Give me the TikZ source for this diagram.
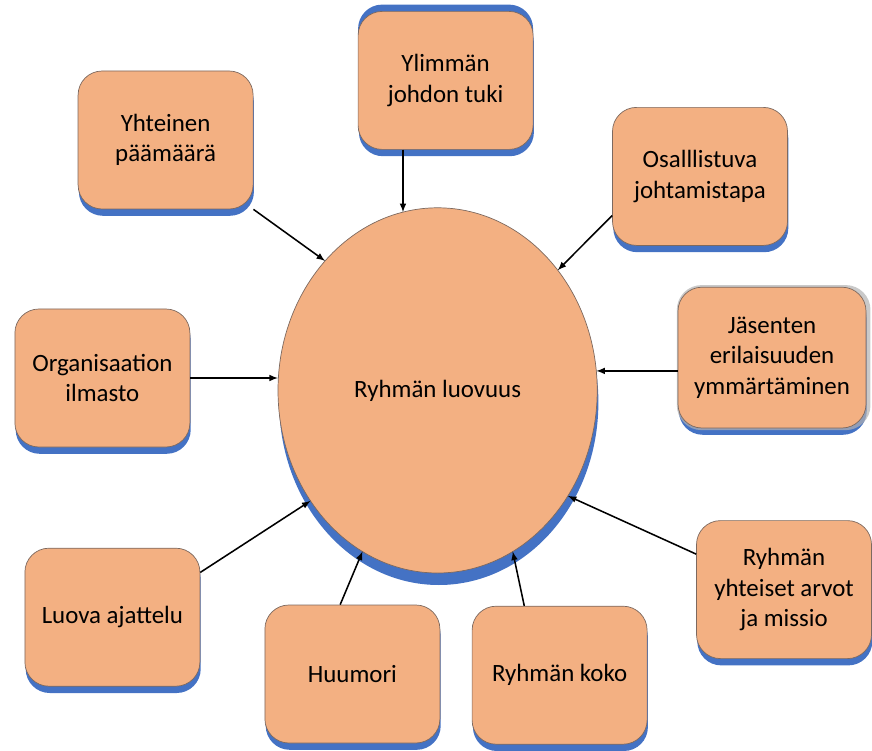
\documentclass[tikz,border=0pt]{standalone}
\usepackage{fontspec}
\setmainfont{Carlito}
\usepackage{tikz}
\usetikzlibrary{shapes,positioning,calc}
\usetikzlibrary{shapes.geometric, arrows}
\usetikzlibrary{shadows}
\definecolor{laatikko}{RGB}{243,176,130}
\definecolor{varjo}{RGB}{68,114,196}
\definecolor{reuna}{RGB}{125,105,95}
\tikzstyle{tekija} = [rectangle, 
rounded corners=0.6cm, minimum width=4.375cm, minimum height=3.45cm, text centered, align=center, draw=reuna, line width=0.5pt, fill=laatikko, font=\fontsize{17.7}{21.5}\selectfont, drop shadow={shadow xshift=0.02cm, shadow yshift=-0.17cm, fill=varjo, opacity=1}]
\tikzstyle{ylavarjo} = [drop shadow={shadow xshift=0cm, shadow yshift=0.17cm, fill=varjo, opacity=1}]
\tikzstyle{harmaavarjo} = [drop shadow={shadow scale=1.03, shadow xshift=0.04cm, shadow yshift=0cm, fill=gray!60, opacity=0.7}]
\tikzstyle{luovuus} = [ellipse, minimum width=7.98cm, minimum height=9.13cm, outer sep=0pt, draw=reuna, line width=0.5pt, fill=laatikko, font=\fontsize{17.7}{21.5}\selectfont, drop shadow={shadow xshift=0.03cm, shadow yshift=-0.3cm, fill=varjo, opacity=1}]
\tikzstyle{arrow} = [line width=1.1pt,->,>=latex]

\begin{document}
\begin{tikzpicture}
	\useasboundingbox (0,0) rectangle (21.8,-18.775);
	\node (ryhma) at (10.94,-9.76) [luovuus] {Ryhmän luovuus};
	\node (yht) at (4.14,-3.5) [tekija] {Yhteinen\\päämäärä};
	\node (ylim) at (11.14,-2.01) [tekija, ylavarjo] {Ylimmän\\johdon tuki};
	\node (osal) at (17.5,-4.41) [tekija] {Osalllistuva\\johtamistapa};
	\node (jas) at (19.3,-8.94) [tekija, harmaavarjo, minimum width=4.7cm, minimum height=3.52cm] {Jäsenten\\erilaisuuden\\ymmärtäminen};
	\node (org) at (2.56,-9.45) [tekija] {Organisaation\\ilmasto};
	\node (luo) at (2.81,-15.43) [tekija] {Luova ajattelu};
	\node (huu) at (8.81,-16.85) [tekija] {Huumori};
	\node (koko) at (13.99,-16.88) [tekija] {Ryhmän koko};
	\node (arvot) at (19.6,-14.74) [tekija] {Ryhmän\\yhteiset arvot\\ja missio};
	\draw [arrow] (yht.south east) -- (ryhma.131);
	\draw [arrow] (ryhma.101 |- ylim.south) -- (ryhma.101);
	\draw [arrow] (osal.204) -- (ryhma.45);
	\draw [arrow] (ryhma.7 -| jas.west) -- (ryhma.7);
	\draw [arrow] (org.east) -- (org.east -| ryhma.west);
	\draw [arrow] (luo.27) -- (ryhma.221);
	\draw [arrow] (huu.100) -- (ryhma.245);
	\draw [arrow] (koko.117) -- (ryhma.295);
	\draw [arrow] (arvot.158) -- (ryhma.321);
\end{tikzpicture}
\end{document}
